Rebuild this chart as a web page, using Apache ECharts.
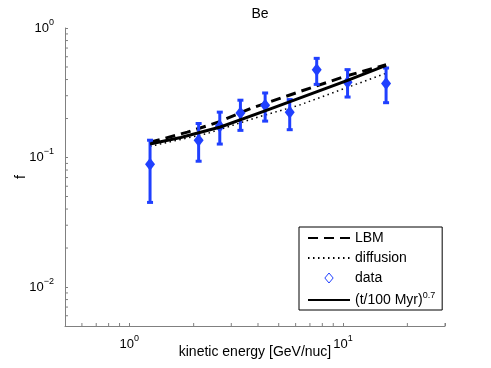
<!DOCTYPE html>
<html>
<head>
<meta charset="utf-8">
<script src="https://cdn.jsdelivr.net/npm/echarts@6/dist/echarts.min.js"></script>
<style>
html,body{margin:0;padding:0;background:#fff;}
#c{width:491px;height:368px;}
</style>
</head>
<body>
<div id="c"></div>
<script>
// ---- data ----
const energy   = [1.25, 2.11, 2.65, 3.31, 4.32, 5.63, 7.53, 10.5, 15.9];
const fData    = [0.0888, 0.136, 0.174, 0.221, 0.253, 0.224, 0.477, 0.381, 0.372];
const fLow     = [0.045, 0.0936, 0.127, 0.162, 0.191, 0.164, 0.367, 0.293, 0.265];
const fHigh    = [0.136, 0.183, 0.224, 0.277, 0.315, 0.280, 0.583, 0.477, 0.491];

const lbmX     = [1.25, 1.87, 2.62, 3.69, 6.21, 10.25, 15.9];
const lbmY     = [0.131, 0.157, 0.188, 0.239, 0.321, 0.424, 0.52];

const diffX    = [1.25, 2.31, 4.03, 6.21, 10.5, 15.9];
const diffY    = [0.122, 0.153, 0.206, 0.253, 0.348, 0.447];

const fitX     = [1.25, 1.74, 2.67, 4.41, 10.5, 15.9];
const fitY     = [0.127, 0.1426, 0.172, 0.232, 0.394, 0.515];

const xMinorTicks = [0.6, 0.7, 0.8, 0.9, 2, 3, 4, 5, 6, 7, 8, 9, 20, 30];
const yMinorTicks = [0.006, 0.007, 0.008, 0.009, 0.02, 0.03, 0.04, 0.05, 0.06, 0.07, 0.08, 0.09,
                     0.2, 0.3, 0.4, 0.5, 0.6, 0.7, 0.8, 0.9];

const X_MIN = 0.5, X_MAX = 30, Y_MIN = 0.005, Y_MAX = 1;
const BLUE = '#2040ff';
const AXIS = '#808080';
const FONT = "'Liberation Sans', Arial, Helvetica, sans-serif";

function zip(a, b) { return a.map((v, i) => [v, b[i]]); }

function powLabel(v) {
  const l = Math.log10(v);
  const r = Math.round(l);
  if (Math.abs(l - r) > 1e-6) return '';
  const e = r < 0 ? '\u2212' + (-r) : String(r);
  return '{b|10}{s|' + e + '}';
}
const labelRich = {
  b: { fontSize: 13, lineHeight: 14, fontFamily: FONT, color: '#000' },
  s: { fontSize: 9, lineHeight: 9, fontFamily: FONT, color: '#000', padding: [0, 0, 11, 0] }
};
const hiddenSym = { color: 'transparent', borderColor: 'transparent', borderWidth: 0, opacity: 0 };

const chart = echarts.init(document.getElementById('c'), null, { renderer: 'canvas' });

const option = {
  animation: false,
  backgroundColor: '#fff',
  textStyle: { fontFamily: FONT },
  title: {
    text: 'Be',
    left: 255, top: 2, textAlign: 'center',
    textStyle: { fontSize: 14, fontWeight: 'normal', color: '#000', fontFamily: FONT }
  },
  grid: { left: 65, right: 46, top: 28, bottom: 42, containLabel: false, outerBoundsMode: 'none' },
  xAxis: {
    type: 'log', logBase: 10, min: X_MIN, max: X_MAX,
    name: 'kinetic energy [GeV/nuc]', nameLocation: 'middle', nameGap: 19, nameMoveOverlap: false,
    nameTextStyle: { fontSize: 14, color: '#000', fontFamily: FONT },
    axisLine: { show: true, lineStyle: { color: AXIS, width: 1 } },
    axisTick: { show: true, inside: true, length: 3, lineStyle: { color: AXIS } },
    splitLine: { show: false },
    minorTick: { show: false },
    axisLabel: { formatter: powLabel, rich: labelRich, margin: 11, showMinLabel: true, showMaxLabel: true }
  },
  yAxis: {
    type: 'log', logBase: 10, min: Y_MIN, max: Y_MAX,
    name: 'f', nameLocation: 'middle', nameGap: 37, nameMoveOverlap: false,
    nameTextStyle: { fontSize: 14, color: '#000', fontFamily: FONT },
    axisLine: { show: true, lineStyle: { color: AXIS, width: 1 } },
    axisTick: { show: true, inside: true, length: 3, lineStyle: { color: AXIS } },
    splitLine: { show: false },
    minorTick: { show: false },
    axisLabel: { formatter: powLabel, rich: labelRich, margin: 11 }
  },
  legend: {
    orient: 'vertical',
    left: 299, top: 227,
    backgroundColor: '#fff',
    borderColor: '#000', borderWidth: 1, borderRadius: 0,
    padding: [4, 7, 1, 8],
    itemWidth: 42, itemHeight: 10, itemGap: 6,
    symbolKeepAspect: true,
    textStyle: {
      fontSize: 14, color: '#000', fontFamily: FONT,
      rich: {
        a: { fontSize: 14, fontFamily: FONT, color: '#000', lineHeight: 16 },
        s: { fontSize: 9, fontFamily: FONT, color: '#000', lineHeight: 9, padding: [0, 0, 9, 0] }
      }
    },
    formatter: function (name) {
      if (name === 'fit') return '{a|(t/100 Myr)}{s|0.7}';
      return name;
    },
    selectedMode: false,
    data: [
      { name: 'LBM', itemStyle: hiddenSym },
      { name: 'diffusion', itemStyle: hiddenSym },
      { name: 'data', icon: 'path://M5,0 L10,6 L5,12 L0,6 Z',
        itemStyle: { color: '#fff', borderColor: BLUE, borderWidth: 1 } },
      { name: 'fit', itemStyle: hiddenSym }
    ]
  },
  series: [
    {
      name: 'LBM', type: 'line', data: zip(lbmX, lbmY), symbol: 'none', showSymbol: false,
      lineStyle: { color: '#000', width: 3, type: [10, 6] }, itemStyle: { color: '#000' }, z: 2
    },
    {
      name: 'diffusion', type: 'line', data: zip(diffX, diffY), symbol: 'none', showSymbol: false,
      lineStyle: { color: '#000', width: 1.5, type: [1.5, 3.5] }, itemStyle: { color: '#000' }, z: 2
    },
    {
      name: 'errbars', type: 'custom',
      data: energy.map((x, i) => [x, fLow[i], fHigh[i]]),
      encode: { x: 0, y: [1, 2] },
      z: 3,
      renderItem: function (params, api) {
        const x = api.value(0), lo = api.value(1), hi = api.value(2);
        const pl = api.coord([x, lo]), ph = api.coord([x, hi]);
        const cw = 3;
        const st = { stroke: BLUE, lineWidth: 3 };
        return {
          type: 'group', children: [
            { type: 'line', shape: { x1: pl[0], y1: pl[1], x2: ph[0], y2: ph[1] }, style: st },
            { type: 'line', shape: { x1: pl[0] - cw, y1: pl[1], x2: pl[0] + cw, y2: pl[1] }, style: st },
            { type: 'line', shape: { x1: ph[0] - cw, y1: ph[1], x2: ph[0] + cw, y2: ph[1] }, style: st }
          ]
        };
      }
    },
    {
      name: 'data', type: 'scatter', data: zip(energy, fData),
      symbol: 'diamond', symbolSize: [10, 13],
      itemStyle: { color: BLUE, opacity: 1 }, z: 4
    },
    {
      name: 'fit', type: 'line', data: zip(fitX, fitY), symbol: 'none', showSymbol: false,
      lineStyle: { color: '#000', width: 3, type: 'solid' }, itemStyle: { color: '#000' }, z: 5
    },
    {
      name: 'xminor', type: 'custom', silent: true, z: 1,
      data: xMinorTicks.map(v => [v, Y_MIN]),
      renderItem: function (params, api) {
        const p = api.coord([api.value(0), api.value(1)]);
        return { type: 'line', shape: { x1: p[0], y1: p[1], x2: p[0], y2: p[1] - 3 }, style: { stroke: AXIS, lineWidth: 1 } };
      }
    },
    {
      name: 'yminor', type: 'custom', silent: true, z: 1,
      data: yMinorTicks.map(v => [X_MIN, v]),
      renderItem: function (params, api) {
        const p = api.coord([api.value(0), api.value(1)]);
        return { type: 'line', shape: { x1: p[0], y1: p[1], x2: p[0] + 3, y2: p[1] }, style: { stroke: AXIS, lineWidth: 1 } };
      }
    }
  ]
};
chart.setOption(option);
</script>
</body>
</html>
